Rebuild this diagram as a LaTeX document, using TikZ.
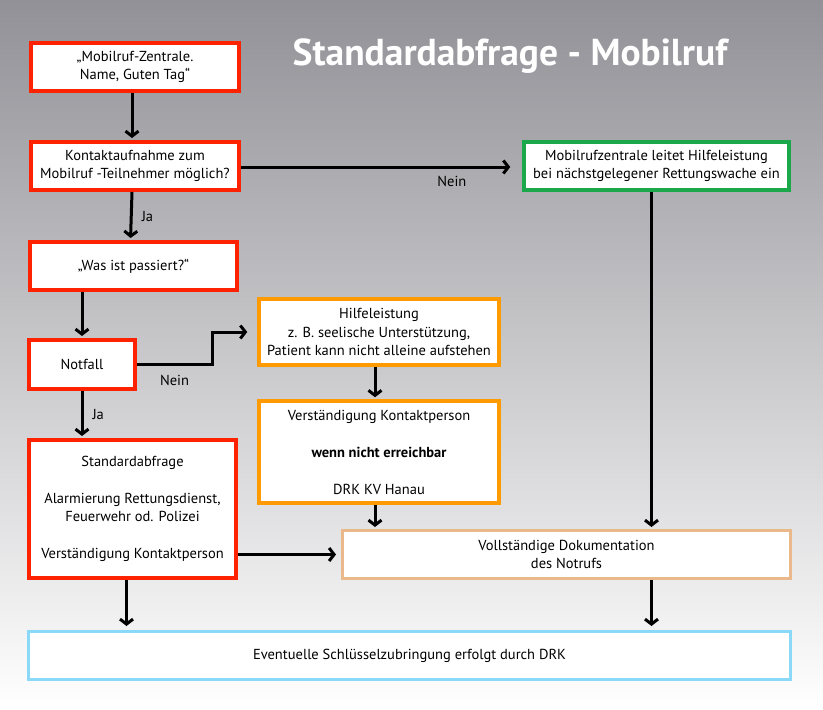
\documentclass[tikz,border=0pt]{standalone}
\usepackage{fontspec}
\setmainfont{PT Sans}
\usetikzlibrary{arrows.meta}
\definecolor{rot}{HTML}{FF2200}
\definecolor{gruen}{HTML}{1BA84A}
\definecolor{orange}{HTML}{FF9A00}
\definecolor{beige}{HTML}{E9B98C}
\definecolor{hellblau}{HTML}{8AD9F8}
\definecolor{hgoben}{HTML}{929197}
\tikzset{box/.style={draw, fill=white, line width=4pt, align=center, inner sep=0pt,
    font=\fontsize{14.5}{18.5}\selectfont},
  arr/.style={line width=3pt, -{Straight Barb[length=5pt,width=13pt]}, shorten >=2pt},
  lbl/.style={font=\fontsize{14.5}{16}\selectfont, inner sep=0pt}}
\begin{document}
\begin{tikzpicture}[x=1pt,y=-1pt]
\shade[top color=hgoben, bottom color=white] (0,0) rectangle (823,710);
\node[font=\fontsize{37.5}{42}\selectfont\bfseries, text=white] (titel) at (510,56) {Standardabfrage - Mobilruf};
% linke Spalte
\node[box, draw=rot, minimum width=208pt, minimum height=48pt] (anruf) at (135,67) {„Mobilruf-Zentrale.\\Name, Guten Tag“};
\node[box, draw=rot, minimum width=208pt, minimum height=48pt] (kontakt) at (135,166) {Kontaktaufnahme zum\\Mobilruf -Teilnehmer möglich?};
\node[box, draw=rot, minimum width=207pt, minimum height=48pt] (frage) at (133.5,266) {„Was ist passiert?“};
\node[box, draw=rot, minimum width=106pt, minimum height=49pt] (notfall) at (82,364.5) {Notfall};
\node[box, draw=rot, minimum width=207pt, minimum height=138pt] (standard) at (132.5,509) {Standardabfrage\\[18.5pt]Alarmierung Rettungsdienst,\\Feuerwehr od. Polizei\\[18.5pt]Verständigung Kontaktperson};
% mitte und rechts
\node[box, draw=orange, line width=3.5pt, minimum width=240pt, minimum height=66pt] (hilfe) at (379,332) {Hilfeleistung\\z. B. seelische Unterstützung,\\Patient kann nicht alleine aufstehen};
\node[box, draw=orange, line width=3.5pt, minimum width=240pt, minimum height=102pt] (verst) at (379,452) {Verständigung Kontaktperson\\[18.5pt]\textbf{wenn nicht erreichbar}\\[18.5pt]DRK KV Hanau};
\node[box, draw=gruen, line width=3.5pt, minimum width=265pt, minimum height=48pt] (zentrale) at (656.5,166) {Mobilrufzentrale leitet Hilfeleistung\\bei nächstgelegener Rettungswache ein};
\node[box, draw=beige, line width=3pt, minimum width=448pt, minimum height=48pt] (doku) at (566.5,554.5) {Vollständige Dokumentation\\des Notrufs};
\node[box, draw=hellblau, line width=3pt, minimum width=762pt, minimum height=48pt] (schluessel) at (409.5,655.5) {Eventuelle Schlüsselzubringung erfolgt durch DRK};
% pfeile
\draw[arr] ([xshift=-3pt]anruf.south) -- ([xshift=-3pt]kontakt.north);
\draw[arr, shorten >=12pt] (kontakt.east |- 0,167) -- (zentrale.west |- 0,167) node[lbl, pos=0.75, below=8pt] {Nein};
\draw[arr] ([xshift=-3pt]kontakt.south) -- ([xshift=-3pt]frage.north) node[lbl, midway, right=9pt] {Ja};
\draw[arr] (frage.south -| notfall.north) -- (notfall.north);
\draw[arr, shorten >=10pt] (notfall.east) -- ++(75,0) node[lbl, midway, below=9pt] {Nein} |- (hilfe.west);
\draw[arr] (notfall.south) -- (notfall.south |- standard.north) node[lbl, midway, right=9pt] {Ja};
\draw[arr] ([xshift=-4pt]hilfe.south) -- ([xshift=-4pt]verst.north);
\draw[arr] ([xshift=-4pt]verst.south) -- ([xshift=-4pt]verst.south |- doku.north);
\coordinate (gx) at ([xshift=-5pt]zentrale.south);
\draw[arr] (gx) -- (gx |- doku.north);
\draw[arr, shorten >=5pt] (standard.east |- doku.west) -- (doku.west);
\draw[arr, shorten >=4pt] ([xshift=-6pt]standard.south) -- ([xshift=-6pt]standard.south |- schluessel.north);
\draw[arr, shorten >=4pt] (gx |- doku.south) -- (gx |- schluessel.north);
\end{tikzpicture}
\end{document}
